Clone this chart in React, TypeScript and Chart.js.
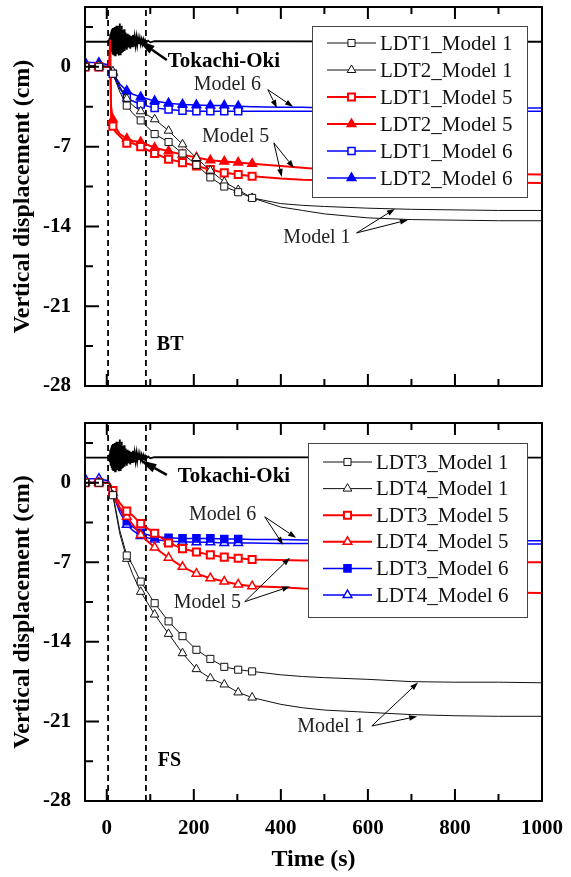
import { useEffect, useRef } from 'react';
import { Chart, registerables } from 'chart.js';

Chart.register(...registerables);

const FONT = '"Liberation Serif", "Times New Roman", Times, serif';

// ---- axes ----
const X_MIN = -50;
const X_MAX = 1000;
const Y_MIN = -28;
const Y_MAX = 5.25;
const X_TICKS = [0, 200, 400, 600, 800, 1000];
const X_MINOR_TICKS = [100, 300, 500, 700, 900];
const Y_TICKS = [-28, -21, -14, -7, 0];
const Y_MINOR_TICKS = [-24.5, -17.5, -10.5, -3.5, 3.5];
const SHAKING_START = 3;
const SHAKING_END = 90;

// ---- BT panel (LDT1 / LDT2) ----
const TIME_BT = [-50, -18, 0, 5, 8, 10, 14, 20, 30, 46, 60, 78, 110, 142, 174, 206, 238, 270, 302, 334, 400, 450, 500, 600, 700, 800, 900, 1000];
const BT_LDT1_M1 = [0, 0, 0, 0, 0, -0.2, -0.6, -1.2, -2.2, -3.4, -4.1, -4.7, -5.9, -6.6, -7.6, -8.6, -9.7, -10.5, -11.0, -11.5, -12.0, -12.15, -12.25, -12.4, -12.5, -12.55, -12.6, -12.6];
const BT_LDT2_M1 = [0.1, 0.1, 0.05, 0, 0, -0.1, -0.4, -0.9, -1.7, -2.8, -3.4, -3.9, -4.6, -5.6, -6.8, -8.0, -9.1, -10.1, -10.8, -11.5, -12.3, -12.6, -12.9, -13.25, -13.4, -13.45, -13.5, -13.5];
const BT_LDT1_M5 = [0, 0, 0, 0, 2.4, -4.6, -5.2, -5.7, -6.1, -6.7, -6.7, -7.0, -7.6, -8.1, -8.4, -8.7, -9.0, -9.3, -9.45, -9.6, -9.8, -9.9, -9.95, -10.0, -10.05, -10.1, -10.15, -10.2];
const BT_LDT2_M5 = [0, 0, 0, 0, 0, -3.5, -4.6, -5.3, -5.9, -6.3, -6.5, -6.6, -7.1, -7.4, -7.7, -7.95, -8.2, -8.3, -8.4, -8.5, -8.7, -8.85, -9.0, -9.15, -9.25, -9.3, -9.4, -9.45];
const BT_LDT1_M6 = [0, 0, 0, 0, 0, -0.2, -0.6, -1.1, -1.9, -2.7, -3.0, -3.3, -3.6, -3.75, -3.85, -3.9, -3.9, -3.9, -3.9, -3.9, -3.9, -3.9, -3.9, -3.9, -3.9, -3.9, -3.9, -3.9];
const BT_LDT2_M6 = [0.4, 0.35, 0.2, 0.05, 0, -0.2, -0.5, -0.9, -1.5, -2.1, -2.4, -2.65, -3.0, -3.2, -3.3, -3.35, -3.4, -3.4, -3.45, -3.5, -3.55, -3.55, -3.6, -3.6, -3.6, -3.6, -3.6, -3.6];

// ---- FS panel (LDT3 / LDT4) ----
const TIME_FS = [-50, -18, 0, 5, 10, 14, 20, 30, 46, 60, 78, 110, 142, 174, 206, 238, 270, 302, 334, 400, 450, 500, 600, 700, 800, 900, 1000];
const FS_LDT3_M1 = [0, 0, 0, 0, -0.4, -1.1, -2.2, -4.2, -6.4, -7.3, -8.7, -10.6, -12.2, -13.5, -14.7, -15.5, -16.2, -16.45, -16.6, -16.9, -17.05, -17.15, -17.3, -17.5, -17.55, -17.55, -17.6];
const FS_LDT4_M1 = [0, 0, 0, 0, -0.4, -1.1, -2.4, -4.5, -6.7, -8.1, -9.6, -11.6, -13.3, -15.0, -16.4, -17.2, -17.75, -18.45, -18.9, -19.5, -19.8, -20.0, -20.2, -20.4, -20.5, -20.55, -20.55];
const FS_LDT3_M5 = [0, 0, 0, 0, -0.3, -0.7, -1.2, -1.8, -2.5, -2.9, -3.6, -4.45, -5.3, -5.8, -6.1, -6.35, -6.55, -6.65, -6.75, -6.8, -6.85, -6.85, -6.9, -6.95, -7.0, -7.0, -7.0];
const FS_LDT4_M5 = [0, 0, 0, 0, -0.4, -0.9, -1.5, -2.2, -3.0, -3.7, -4.6, -5.7, -6.6, -7.4, -8.0, -8.4, -8.7, -8.95, -9.1, -9.2, -9.3, -9.35, -9.45, -9.55, -9.6, -9.65, -9.7];
const FS_LDT3_M6 = [0, 0, 0, 0, -0.3, -0.8, -1.4, -2.3, -3.4, -3.9, -4.4, -4.75, -4.85, -4.9, -4.9, -4.9, -4.95, -4.95, -5.0, -5.0, -5.05, -5.05, -5.05, -5.1, -5.1, -5.1, -5.1];
const FS_LDT4_M6 = [0.35, 0.35, 0.2, 0.05, -0.3, -0.9, -1.6, -2.6, -3.7, -4.2, -4.7, -5.0, -5.15, -5.2, -5.25, -5.25, -5.3, -5.3, -5.3, -5.35, -5.35, -5.35, -5.4, -5.4, -5.4, -5.4, -5.4];

const MARKER_TIMES = [-50, -18, 14, 46, 78, 110, 142, 174, 206, 238, 270, 302, 334];

// ---- Tokachi-Oki input motion (plotted with offset) ----
const WAVE_TIME = [
  -50, 5,
  6, 7, 8, 9, 10, 11, 12, 13, 14, 15, 16, 17, 18, 19, 20, 21, 22, 23, 24, 25,
  26, 27, 28, 29, 30, 31, 32, 33, 34, 35, 36, 37, 38, 39, 40, 41, 42, 43, 44,
  46, 48, 50, 52, 54, 56, 58, 60, 62, 64, 66, 68, 70, 72, 74, 76, 78, 80, 82, 84, 86, 88, 90,
  95, 100, 110, 1000,
];
const WAVE_ACC = [
  2.2, 2.2,
  2.5, 1.8, 2.9, 1.5, 3.1, 1.3, 3.3, 1.2, 3.4, 1.1, 3.2, 1.3, 3.5, 1.0, 3.3, 1.2, 3.6, 1.1, 3.4, 1.3,
  3.6, 1.0, 3.5, 1.2, 3.8, 1.1, 3.4, 1.3, 3.6, 1.4, 3.2, 1.3, 3.1, 1.5, 3.3, 1.4, 3.0, 1.6, 2.9,
  1.5, 2.9, 1.7, 2.8, 1.6, 2.7, 1.8, 2.8, 1.8, 2.6, 1.9, 2.6, 1.9, 2.5, 2.0, 2.5, 2.0, 2.4, 2.0, 2.4, 2.1, 2.35, 2.1,
  2.3, 2.15, 2.25, 2.2,
];

type Shape = 'rect' | 'triangle';
interface SeriesStyle {
  label: string;
  values: number[];
  color: string;
  width: number;
  shape: Shape;
  fill: string;
  markerBorder: number;
  lastMarker: number;
}

const BT_SERIES: SeriesStyle[] = [
  { label: 'LDT1_Model 1', values: BT_LDT1_M1, color: '#111111', width: 1, shape: 'rect', fill: '#ffffff', markerBorder: 1, lastMarker: 334 },
  { label: 'LDT2_Model 1', values: BT_LDT2_M1, color: '#111111', width: 1, shape: 'triangle', fill: '#ffffff', markerBorder: 1, lastMarker: 334 },
  { label: 'LDT1_Model 5', values: BT_LDT1_M5, color: '#ff0000', width: 2, shape: 'rect', fill: '#ffffff', markerBorder: 2, lastMarker: 334 },
  { label: 'LDT2_Model 5', values: BT_LDT2_M5, color: '#ff0000', width: 2, shape: 'triangle', fill: '#ff0000', markerBorder: 1.5, lastMarker: 334 },
  { label: 'LDT1_Model 6', values: BT_LDT1_M6, color: '#0000ff', width: 1.5, shape: 'rect', fill: '#ffffff', markerBorder: 1.5, lastMarker: 302 },
  { label: 'LDT2_Model 6', values: BT_LDT2_M6, color: '#0000ff', width: 1.5, shape: 'triangle', fill: '#0000ff', markerBorder: 1.5, lastMarker: 302 },
];

const FS_SERIES: SeriesStyle[] = [
  { label: 'LDT3_Model 1', values: FS_LDT3_M1, color: '#111111', width: 1, shape: 'rect', fill: '#ffffff', markerBorder: 1, lastMarker: 334 },
  { label: 'LDT4_Model 1', values: FS_LDT4_M1, color: '#111111', width: 1, shape: 'triangle', fill: '#ffffff', markerBorder: 1, lastMarker: 334 },
  { label: 'LDT3_Model 5', values: FS_LDT3_M5, color: '#ff0000', width: 2, shape: 'rect', fill: '#ffffff', markerBorder: 2, lastMarker: 334 },
  { label: 'LDT4_Model 5', values: FS_LDT4_M5, color: '#ff0000', width: 2, shape: 'triangle', fill: '#ffffff', markerBorder: 1.5, lastMarker: 334 },
  { label: 'LDT3_Model 6', values: FS_LDT3_M6, color: '#0000ff', width: 1.5, shape: 'rect', fill: '#0000ff', markerBorder: 1.5, lastMarker: 302 },
  { label: 'LDT4_Model 6', values: FS_LDT4_M6, color: '#0000ff', width: 1.5, shape: 'triangle', fill: '#ffffff', markerBorder: 1.5, lastMarker: 302 },
];

// annotation anchors in data units [time, displacement]
type Pt = [number, number];
interface TextNote { text: string; at: Pt; bold: boolean; size: number; align: CanvasTextAlign }
interface ArrowNote { from: Pt; to: Pt; heavy: boolean }

const BT_TEXTS: TextNote[] = [
  { text: 'Tokachi-Oki', at: [140, 0.45], bold: true, size: 21, align: 'left' },
  { text: 'Model 6', at: [277, -1.6], bold: false, size: 20, align: 'center' },
  { text: 'Model 5', at: [296, -6.15], bold: false, size: 20, align: 'center' },
  { text: 'Model 1', at: [483, -15.0], bold: false, size: 20, align: 'center' },
  { text: 'BT', at: [115, -24.4], bold: true, size: 20, align: 'left' },
];
const BT_ARROWS: ArrowNote[] = [
  { from: [138, 0.6], to: [72, 2.35], heavy: true },
  { from: [370, -2.0], to: [391, -3.6], heavy: false },
  { from: [370, -2.0], to: [428, -3.5], heavy: false },
  { from: [384, -6.67], to: [402, -9.66], heavy: false },
  { from: [384, -6.67], to: [430, -8.87], heavy: false },
  { from: [574, -14.57], to: [662, -12.47], heavy: false },
  { from: [574, -14.57], to: [692, -13.43], heavy: false },
];
const FS_TEXTS: TextNote[] = [
  { text: 'Tokachi-Oki', at: [163, 0.5], bold: true, size: 21, align: 'left' },
  { text: 'Model 6', at: [266, -2.85], bold: false, size: 20, align: 'center' },
  { text: 'Model 5', at: [231, -10.55], bold: false, size: 20, align: 'center' },
  { text: 'Model 1', at: [515, -21.5], bold: false, size: 20, align: 'center' },
  { text: 'FS', at: [117, -24.5], bold: true, size: 20, align: 'left' },
];
const FS_ARROWS: ArrowNote[] = [
  { from: [138, 0.68], to: [76, 2.0], heavy: true },
  { from: [363, -3.0], to: [405, -5.46], heavy: false },
  { from: [363, -3.0], to: [435, -4.85], heavy: false },
  { from: [317, -10.47], to: [421, -6.6], heavy: false },
  { from: [317, -10.47], to: [421, -9.14], heavy: false },
  { from: [609, -21.4], to: [715, -17.58], heavy: false },
  { from: [609, -21.4], to: [713, -20.56], heavy: false },
];

// ---------------------------------------------------------------

function drawMarker(ctx: CanvasRenderingContext2D, shape: Shape, x: number, y: number, r: number) {
  ctx.beginPath();
  if (shape === 'rect') {
    const s = r * Math.SQRT1_2;
    ctx.rect(x - s, y - s, 2 * s, 2 * s);
  } else {
    ctx.moveTo(x, y - r);
    ctx.lineTo(x + 0.866 * r, y + 0.5 * r);
    ctx.lineTo(x - 0.866 * r, y + 0.5 * r);
    ctx.closePath();
  }
}

function drawArrow(ctx: CanvasRenderingContext2D, x1: number, y1: number, x2: number, y2: number, lw: number, headLen: number, headHalf: number) {
  const ang = Math.atan2(y2 - y1, x2 - x1);
  const bx = x2 - Math.cos(ang) * headLen;
  const by = y2 - Math.sin(ang) * headLen;
  ctx.strokeStyle = '#000';
  ctx.fillStyle = '#000';
  ctx.lineWidth = lw;
  ctx.beginPath();
  ctx.moveTo(x1, y1);
  ctx.lineTo(bx, by);
  ctx.stroke();
  ctx.beginPath();
  ctx.moveTo(x2, y2);
  ctx.lineTo(bx + Math.sin(ang) * headHalf, by - Math.cos(ang) * headHalf);
  ctx.lineTo(bx - Math.sin(ang) * headHalf, by + Math.cos(ang) * headHalf);
  ctx.closePath();
  ctx.fill();
}

interface LegendBox { x: number; y: number; w: number; h: number; row0: number; step: number }

function makeConfig(time: number[], series: SeriesStyle[], texts: TextNote[], arrows: ArrowNote[], legend: LegendBox, bottomPanel: boolean, padTop: number, xAxisHeight: number): any {
  const datasets: any[] = series.map((s) => ({
    label: s.label,
    data: time.map((t, i) => ({ x: t, y: s.values[i] })),
    borderColor: s.color,
    borderWidth: s.width,
    pointStyle: s.shape,
    pointRadius: time.map((t) => (MARKER_TIMES.includes(t) && t <= s.lastMarker ? 5 : 0)),
    pointHoverRadius: 0,
    pointBackgroundColor: s.fill,
    pointBorderColor: s.color,
    pointBorderWidth: s.markerBorder,
    fill: false,
    tension: 0,
  }));
  datasets.push({
    label: 'Tokachi-Oki',
    data: WAVE_TIME.map((t, i) => ({ x: t, y: WAVE_ACC[i] })),
    borderColor: '#000',
    borderWidth: 1.8,
    pointRadius: 0,
    fill: false,
    tension: 0,
  });
  [SHAKING_START, SHAKING_END].forEach((t) => {
    datasets.push({
      label: 'window',
      data: [{ x: t, y: Y_MIN }, { x: t, y: Y_MAX }],
      borderColor: '#000',
      borderWidth: 1.8,
      borderDash: [6, 4],
      pointRadius: 0,
      fill: false,
    });
  });

  const framePlugin = {
    id: 'frame',
    afterDraw(chart: any) {
      const { ctx, chartArea: a, scales } = chart;
      ctx.save();
      ctx.strokeStyle = '#000';
      ctx.lineWidth = 2;
      ctx.strokeRect(a.left, a.top, a.right - a.left, a.bottom - a.top);
      ctx.beginPath();
      Y_TICKS.forEach((v) => {
        const y = scales.y.getPixelForValue(v);
        ctx.moveTo(a.left, y);
        ctx.lineTo(a.left + 14, y);
      });
      Y_MINOR_TICKS.forEach((v) => {
        const y = scales.y.getPixelForValue(v);
        ctx.moveTo(a.left, y);
        ctx.lineTo(a.left + 8, y);
      });
      X_TICKS.forEach((v) => {
        const x = scales.x.getPixelForValue(v);
        ctx.moveTo(x, a.top);
        ctx.lineTo(x, a.top + 12);
        ctx.moveTo(x, a.bottom);
        ctx.lineTo(x, a.bottom - 12);
      });
      X_MINOR_TICKS.forEach((v) => {
        const x = scales.x.getPixelForValue(v);
        ctx.moveTo(x, a.top);
        ctx.lineTo(x, a.top + 7);
        ctx.moveTo(x, a.bottom);
        ctx.lineTo(x, a.bottom - 7);
      });
      ctx.stroke();
      ctx.restore();
    },
  };

  const notesPlugin = {
    id: 'notes',
    afterDatasetsDraw(chart: any) {
      const { ctx, scales } = chart;
      const P = (p: Pt) => [scales.x.getPixelForValue(p[0]), scales.y.getPixelForValue(p[1])];
      ctx.save();
      arrows.forEach((ar) => {
        const [x1, y1] = P(ar.from);
        const [x2, y2] = P(ar.to);
        if (ar.heavy) drawArrow(ctx, x1, y1, x2, y2, 2.5, 17, 4.5);
        else drawArrow(ctx, x1, y1, x2, y2, 1, 8, 2.8);
      });
      texts.forEach((t) => {
        const [x, y] = P(t.at);
        ctx.font = `${t.bold ? 'bold ' : ''}${t.size}px ${FONT}`;
        ctx.fillStyle = t.bold ? '#000' : '#222';
        ctx.textAlign = t.align;
        ctx.textBaseline = 'middle';
        ctx.fillText(t.text, x, y);
      });
      ctx.restore();
    },
  };

  const legendPlugin = {
    id: 'boxLegend',
    afterDraw(chart: any) {
      const { ctx } = chart;
      ctx.save();
      ctx.fillStyle = '#fff';
      ctx.fillRect(legend.x, legend.y, legend.w, legend.h);
      ctx.strokeStyle = '#444';
      ctx.lineWidth = 1;
      ctx.strokeRect(legend.x + 0.5, legend.y + 0.5, legend.w, legend.h);
      series.forEach((s, i) => {
        const y = legend.y + legend.row0 + i * legend.step;
        ctx.strokeStyle = s.color;
        ctx.lineWidth = s.width;
        ctx.beginPath();
        ctx.moveTo(legend.x + 15, y);
        ctx.lineTo(legend.x + 64, y);
        ctx.stroke();
        drawMarker(ctx, s.shape, legend.x + 39.5, y, 5);
        ctx.fillStyle = s.fill;
        ctx.fill();
        ctx.lineWidth = s.markerBorder;
        ctx.strokeStyle = s.color;
        ctx.stroke();
        ctx.fillStyle = '#111';
        ctx.font = `21px ${FONT}`;
        ctx.textAlign = 'left';
        ctx.textBaseline = 'middle';
        ctx.fillText(s.label, legend.x + 68, y + 1);
      });
      ctx.restore();
    },
  };

  return {
    type: 'line',
    data: { datasets },
    options: {
      animation: false,
      responsive: false,
      maintainAspectRatio: false,
      events: [],
      layout: { padding: { left: 0, right: 29, top: padTop, bottom: 0 } },
      plugins: { legend: { display: false }, tooltip: { enabled: false }, title: { display: false } },
      scales: {
        x: {
          type: 'linear',
          min: X_MIN,
          max: X_MAX,
          afterBuildTicks: (s: any) => {
            s.ticks = X_TICKS.map((v) => ({ value: v }));
          },
          afterFit: (s: any) => {
            s.height = xAxisHeight;
            s.paddingLeft = 0;
            s.paddingRight = 0;
          },
          grid: { display: false, drawTicks: false },
          border: { display: false },
          ticks: {
            display: bottomPanel,
            padding: 15,
            maxRotation: 0,
            autoSkip: false,
            color: '#000',
            font: { family: FONT, size: 21, weight: 'bold' },
            callback: (v: any) => String(v),
          },
          title: {
            display: bottomPanel,
            text: 'Time (s)',
            color: '#000',
            font: { family: FONT, size: 24, weight: 'bold' },
            padding: { top: 0, bottom: 3 },
          },
        },
        y: {
          type: 'linear',
          min: Y_MIN,
          max: Y_MAX,
          afterBuildTicks: (s: any) => {
            s.ticks = Y_TICKS.map((v) => ({ value: v }));
          },
          afterFit: (s: any) => {
            s.width = 85;
            s.paddingTop = 0;
            s.paddingBottom = 0;
          },
          grid: { display: false, drawTicks: false },
          border: { display: false },
          ticks: {
            padding: 14,
            autoSkip: false,
            color: '#000',
            font: { family: FONT, size: 21, weight: 'bold' },
            callback: (v: any) => String(v),
          },
          title: {
            display: true,
            text: 'Vertical displacement (cm)',
            color: '#000',
            font: { family: FONT, size: 24, weight: 'bold' },
            padding: { top: 8, bottom: 0 },
          },
        },
      },
    },
    plugins: [notesPlugin, framePlugin, legendPlugin],
  };
}

export default function App() {
  const topRef = useRef<HTMLCanvasElement | null>(null);
  const botRef = useRef<HTMLCanvasElement | null>(null);

  useEffect(() => {
    const charts: Chart[] = [];
    if (topRef.current) {
      charts.push(
        new Chart(
          topRef.current,
          makeConfig(TIME_BT, BT_SERIES, BT_TEXTS, BT_ARROWS, { x: 312, y: 26, w: 215, h: 171, row0: 17, step: 27 }, false, 7, 19)
        )
      );
    }
    if (botRef.current) {
      charts.push(
        new Chart(
          botRef.current,
          makeConfig(TIME_FS, FS_SERIES, FS_TEXTS, FS_ARROWS, { x: 308, y: 38, w: 219, h: 174, row0: 19, step: 26.6 }, true, 18, 76)
        )
      );
    }
    return () => charts.forEach((c) => c.destroy());
  }, []);

  return (
    <div style={{ position: 'absolute', left: 0, top: 0, width: 571, height: 877, background: '#fff', overflow: 'hidden' }}>
      <canvas ref={topRef} width={571} height={405} style={{ position: 'absolute', left: 0, top: 0, width: 571, height: 405 }} />
      <canvas ref={botRef} width={571} height={472} style={{ position: 'absolute', left: 0, top: 405, width: 571, height: 472 }} />
    </div>
  );
}
